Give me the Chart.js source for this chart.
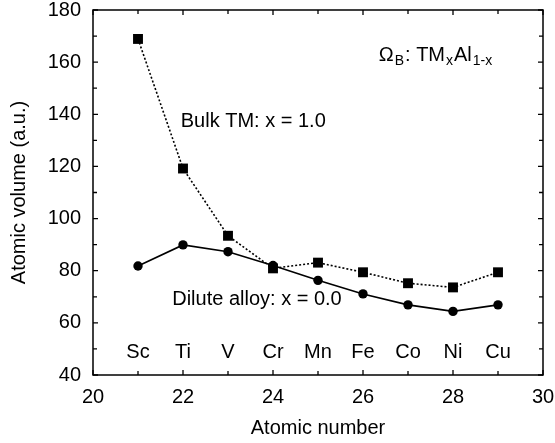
<!DOCTYPE html>
<html lang="en">
<head>
    <meta charset="UTF-8">
    <title>Atomic volume vs atomic number</title>
    <style>
        html, body { margin: 0; padding: 0; background: #fff; }
        #wrap { width: 555px; height: 443px; position: relative; }
    </style>
    <script src="https://cdn.jsdelivr.net/npm/chart.js"></script>
</head>
<body>
    <div id="wrap"><canvas id="myChart" width="555" height="443"></canvas></div>

    <script>
        const atomicNumbers = [21, 22, 23, 24, 25, 26, 27, 28, 29];
        const elements = ['Sc', 'Ti', 'V', 'Cr', 'Mn', 'Fe', 'Co', 'Ni', 'Cu'];
        const bulkVolume = [168.9, 119.2, 93.4, 80.9, 83.1, 79.4, 75.2, 73.6, 79.4];
        const diluteVolume = [81.8, 89.9, 87.3, 82.0, 76.3, 71.1, 66.9, 64.4, 66.9];
        const xTicks = [20, 22, 24, 26, 28, 30];
        const yTicks = [40, 60, 80, 100, 120, 140, 160, 180];

        const FONT = '"Liberation Sans", Arial, Helvetica, sans-serif';

        function toPoints(ys) {
            return atomicNumbers.map((z, i) => ({ x: z, y: ys[i] }));
        }

        // frame, inward ticks on all four sides, element names and text labels
        const decorations = {
            id: 'decorations',
            afterDraw(chart) {
                const { ctx, chartArea: a, scales: { x, y } } = chart;
                ctx.save();
                ctx.strokeStyle = '#000';
                ctx.lineWidth = 1.5;
                ctx.strokeRect(a.left, a.top, a.right - a.left, a.bottom - a.top);

                ctx.lineWidth = 1.3;
                ctx.beginPath();
                for (let v = 20; v <= 30; v += 1) {
                    const px = x.getPixelForValue(v);
                    const len = v % 2 === 0 ? 5 : 4;
                    ctx.moveTo(px, a.bottom); ctx.lineTo(px, a.bottom - len);
                    ctx.moveTo(px, a.top); ctx.lineTo(px, a.top + len);
                }
                for (let v = 40; v <= 180; v += 10) {
                    const py = y.getPixelForValue(v);
                    const len = v % 20 === 0 ? 5 : 4;
                    ctx.moveTo(a.left, py); ctx.lineTo(a.left + len, py);
                    ctx.moveTo(a.right, py); ctx.lineTo(a.right - len, py);
                }
                ctx.stroke();

                ctx.fillStyle = '#000';
                ctx.font = '20px ' + FONT;
                ctx.textAlign = 'center';
                ctx.textBaseline = 'middle';
                elements.forEach((el, i) => {
                    ctx.fillText(el, x.getPixelForValue(atomicNumbers[i]), y.getPixelForValue(48.6));
                });

                ctx.textAlign = 'left';
                ctx.fillText('Bulk TM: x = 1.0', x.getPixelForValue(21.95), y.getPixelForValue(137.4));
                ctx.fillText('Dilute alloy: x = 0.0', x.getPixelForValue(21.76), y.getPixelForValue(68.8));

                // Omega_B: TM_x Al_1-x
                let px = x.getPixelForValue(26.35);
                const py = y.getPixelForValue(162.5);
                const parts = [
                    ['\u03A9', 20, 0], ['B', 14, 6], [': TM', 20, 0], ['x', 14, 6],
                    ['Al', 20, 0], ['1-x', 14, 6]
                ];
                parts.forEach(([t, s, dy]) => {
                    ctx.font = s + 'px ' + FONT;
                    ctx.fillText(t, px, py + dy);
                    px += ctx.measureText(t).width + 1;
                });
                ctx.restore();
            }
        };

        const ctx = document.getElementById('myChart').getContext('2d');
        const myChart = new Chart(ctx, {
            type: 'scatter',
            data: {
                datasets: [{
                    label: 'Bulk TM: x = 1.0',
                    data: toPoints(bulkVolume),
                    showLine: true,
                    borderColor: '#000',
                    backgroundColor: '#000',
                    borderWidth: 1.6,
                    borderDash: [2, 2],
                    pointStyle: 'rect',
                    pointRadius: 7,
                    pointBorderWidth: 0
                }, {
                    label: 'Dilute alloy: x = 0.0',
                    data: toPoints(diluteVolume),
                    showLine: true,
                    borderColor: '#000',
                    backgroundColor: '#000',
                    borderWidth: 1.6,
                    pointStyle: 'circle',
                    pointRadius: 4.7,
                    pointBorderWidth: 0
                }]
            },
            plugins: [decorations],
            options: {
                responsive: false,
                animation: false,
                events: [],
                layout: { padding: { top: 10, right: 12, left: 0, bottom: 0 } },
                plugins: { legend: { display: false }, tooltip: { enabled: false } },
                scales: {
                    x: {
                        type: 'linear',
                        min: 20, max: 30,
                        afterBuildTicks: s => { s.ticks = xTicks.map(v => ({ value: v })); },
                        afterFit: s => { s.height = 68; s.paddingLeft = 0; s.paddingRight = 0; },
                        grid: { display: false, drawTicks: false },
                        border: { display: false },
                        ticks: { color: '#000', padding: 10, font: { family: FONT, size: 20 } },
                        title: { display: true, text: 'Atomic number', color: '#000', padding: { top: 4, bottom: 3 }, font: { family: FONT, size: 20 } }
                    },
                    y: {
                        min: 40, max: 180,
                        afterBuildTicks: s => { s.ticks = yTicks.map(v => ({ value: v })); },
                        afterFit: s => { s.width = 93; s.paddingTop = 0; s.paddingBottom = 0; },
                        grid: { display: false, drawTicks: false },
                        border: { display: false },
                        ticks: { color: '#000', padding: 12, font: { family: FONT, size: 20 } },
                        title: { display: true, text: 'Atomic volume (a.u.)', color: '#000', padding: { top: 7, bottom: 0 }, font: { family: FONT, size: 20 } }
                    }
                }
            }
        });
    </script>
</body>
</html>
